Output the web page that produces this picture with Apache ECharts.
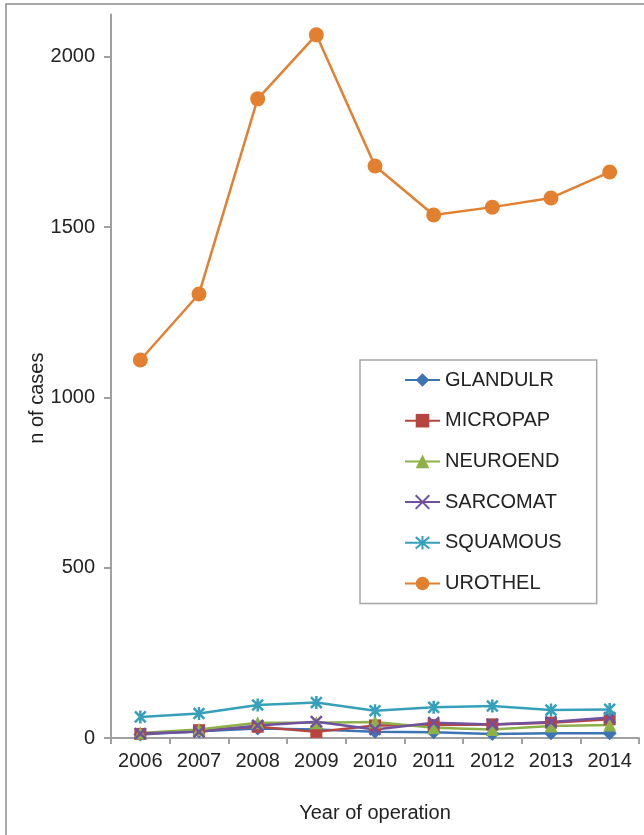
<!DOCTYPE html>
<html>
<head>
<meta charset="utf-8">
<script src="https://cdn.jsdelivr.net/npm/echarts@6/dist/echarts.min.js"></script>
<style>
  html, body { margin: 0; padding: 0; background: #fff; }
  #chart { width: 644px; height: 835px; }
</style>
</head>
<body>
<div id="chart"></div>
<script>
// Annual case counts by histological type
const years = ['2006', '2007', '2008', '2009', '2010', '2011', '2012', '2013', '2014'];
const glandulr = [10, 20, 28, 25, 18, 17, 12, 14, 14];
const micropap = [12, 23, 33, 18, 37, 38, 40, 45, 55];
const neuroend = [15, 25, 45, 45, 47, 30, 25, 35, 38];
const sarcomat = [13, 18, 37, 48, 25, 45, 40, 47, 60];
const squamous = [62, 72, 97, 104, 80, 90, 94, 82, 84];
const urothel = [1110, 1304, 1877, 2065, 1680, 1536, 1559, 1586, 1662];
const yTicks = [0, 500, 1000, 1500, 2000];

const FONT = '"Liberation Sans", Arial, sans-serif';
const crossPath = 'path://M0,0L10,10M10,0L0,10';
const starPath = 'path://M0,0L10,10M10,0L0,10M5,-1L5,11';

function lineSeries(name, data, color, symbol, size, strokeOnly) {
  return {
    name: name,
    type: 'line',
    data: data,
    symbol: symbol,
    symbolSize: size,
    symbolKeepAspect: true,
    showAllSymbol: true,
    lineStyle: { color: color, width: 2.5 },
    itemStyle: strokeOnly
      ? { color: color, borderColor: color, borderWidth: 2.5 }
      : { color: color, borderWidth: 0 },
    emphasis: { disabled: true },
    animation: false
  };
}

const chart = echarts.init(document.getElementById('chart'), null, { renderer: 'canvas' });
chart.setOption({
  backgroundColor: '#ffffff',
  animation: false,
  textStyle: { fontFamily: FONT },
  graphic: [{
    type: 'rect',
    shape: { x: 6, y: 4, width: 700, height: 900 },
    style: { fill: 'none', stroke: '#8c8c8c', lineWidth: 1.5 },
    silent: true
  }],
  grid: { left: 111, right: 5, top: 14.4, bottom: 97 },
  legend: {
    orient: 'vertical',
    left: 360,
    top: 360,
    padding: [10, 35, 10, 44],
    itemGap: 20.7,
    itemWidth: 35,
    itemHeight: 17,
    backgroundColor: '#ffffff',
    borderColor: '#a6a6a6',
    borderWidth: 1.5,
    textStyle: { fontFamily: FONT, fontSize: 20, color: '#222', lineHeight: 20 },
    data: ['GLANDULR', 'MICROPAP', 'NEUROEND', 'SARCOMAT', 'SQUAMOUS', 'UROTHEL']
  },
  xAxis: {
    type: 'category',
    data: years,
    boundaryGap: true,
    name: 'Year of operation',
    nameLocation: 'middle',
    nameGap: 65,
    nameTextStyle: { fontFamily: FONT, fontSize: 20, color: '#222' },
    axisLine: { lineStyle: { color: '#a0a0a0', width: 2 } },
    axisTick: { show: true, length: 6, lineStyle: { color: '#a0a0a0', width: 2 } },
    axisLabel: { margin: 13, fontFamily: FONT, fontSize: 20, color: '#222' },
    splitLine: { show: false }
  },
  yAxis: {
    type: 'value',
    min: 0,
    max: 2125,
    interval: 500,
    name: 'n of cases',
    nameLocation: 'middle',
    nameGap: 64,
    nameRotate: 90,
    nameMoveOverlap: false,
    nameTextStyle: { fontFamily: FONT, fontSize: 20, color: '#222', padding: [0, 44, 0, 0] },
    axisLine: { show: true, lineStyle: { color: '#a0a0a0', width: 2 } },
    axisTick: { show: true, length: 7, customValues: yTicks, lineStyle: { color: '#a0a0a0', width: 2 } },
    axisLabel: {
      margin: 16,
      customValues: yTicks,
      formatter: function (v) { return String(v); },
      fontFamily: FONT, fontSize: 20, color: '#222'
    },
    splitLine: { show: false }
  },
  series: [
    lineSeries('GLANDULR', glandulr, '#3c74b4', 'diamond', 14, false),
    lineSeries('MICROPAP', micropap, '#b8443f', 'rect', 12, false),
    lineSeries('NEUROEND', neuroend, '#8db149', 'triangle', 13, false),
    lineSeries('SARCOMAT', sarcomat, '#6f51a0', crossPath, 11, true),
    lineSeries('SQUAMOUS', squamous, '#36a0ba', starPath, 13, true),
    lineSeries('UROTHEL', urothel, '#e3802f', 'circle', 15, false)
  ]
});
</script>
</body>
</html>
